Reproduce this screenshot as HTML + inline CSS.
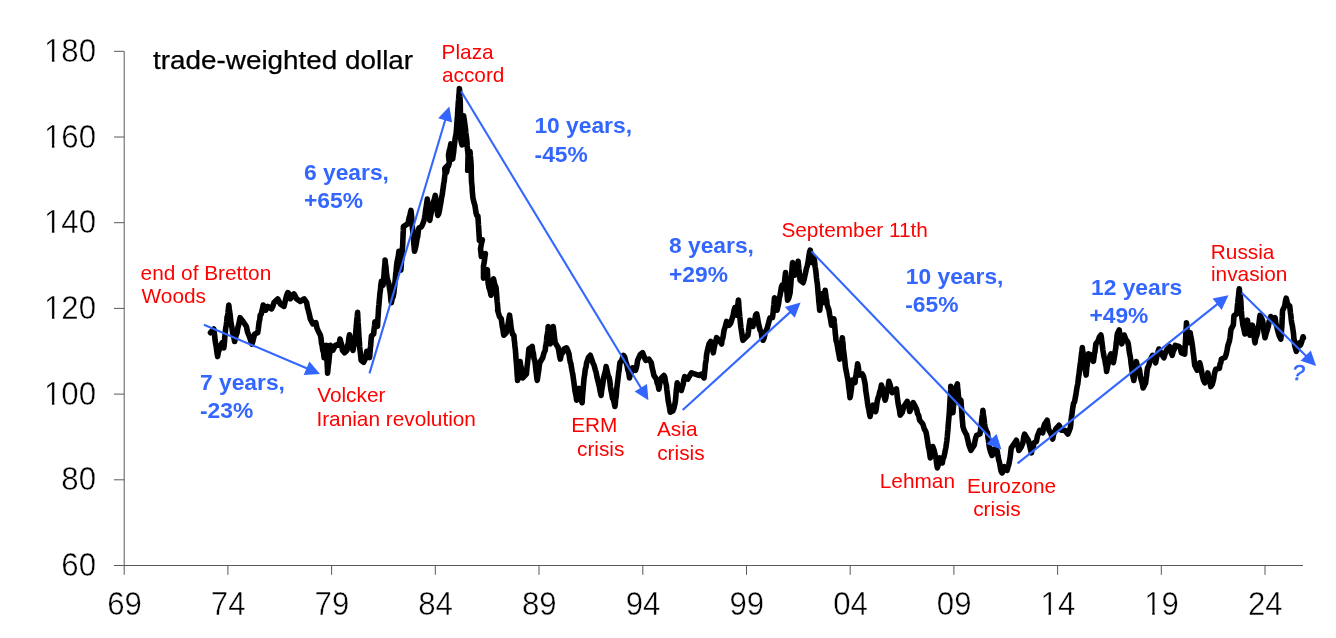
<!DOCTYPE html>
<html><head><meta charset="utf-8"><title>trade-weighted dollar</title>
<style>html,body{margin:0;padding:0;background:#fff}svg{display:block}text{font-family:"Liberation Sans",sans-serif}.ax{font-size:32.5px;fill:#000;stroke:#fff;stroke-width:0.45px}.r{font-size:20.8px;fill:#FF0000}.b{font-size:22.8px;font-weight:bold;fill:#3366FF}.t{font-size:25px;fill:#000;stroke:#000;stroke-width:0.25px}</style></head><body>
<svg width="1336" height="638" viewBox="0 0 1336 638">
<rect width="1336" height="638" fill="#fff"/>
<g stroke="#595959" stroke-width="1" fill="none">
<line x1="124.2" y1="51.3" x2="124.2" y2="574.8"/>
<line x1="114" y1="565.5" x2="1303" y2="565.5"/>
<line x1="114" y1="479.8" x2="124.2" y2="479.8"/>
<line x1="114" y1="394.1" x2="124.2" y2="394.1"/>
<line x1="114" y1="308.4" x2="124.2" y2="308.4"/>
<line x1="114" y1="222.7" x2="124.2" y2="222.7"/>
<line x1="114" y1="137.0" x2="124.2" y2="137.0"/>
<line x1="114" y1="51.3" x2="124.2" y2="51.3"/>
<line x1="227.9" y1="565.5" x2="227.9" y2="574.8"/>
<line x1="331.6" y1="565.5" x2="331.6" y2="574.8"/>
<line x1="435.3" y1="565.5" x2="435.3" y2="574.8"/>
<line x1="539.0" y1="565.5" x2="539.0" y2="574.8"/>
<line x1="642.8" y1="565.5" x2="642.8" y2="574.8"/>
<line x1="746.5" y1="565.5" x2="746.5" y2="574.8"/>
<line x1="850.2" y1="565.5" x2="850.2" y2="574.8"/>
<line x1="953.9" y1="565.5" x2="953.9" y2="574.8"/>
<line x1="1057.6" y1="565.5" x2="1057.6" y2="574.8"/>
<line x1="1161.3" y1="565.5" x2="1161.3" y2="574.8"/>
<line x1="1265.0" y1="565.5" x2="1265.0" y2="574.8"/>
</g>
<text class="ax" transform="translate(96,576.1) scale(0.96,1)" text-anchor="end">60</text>
<text class="ax" transform="translate(96,490.4) scale(0.96,1)" text-anchor="end">80</text>
<text class="ax" transform="translate(96,404.7) scale(0.96,1)" text-anchor="end">100</text>
<text class="ax" transform="translate(96,319.0) scale(0.96,1)" text-anchor="end">120</text>
<text class="ax" transform="translate(96,233.3) scale(0.96,1)" text-anchor="end">140</text>
<text class="ax" transform="translate(96,147.6) scale(0.96,1)" text-anchor="end">160</text>
<text class="ax" transform="translate(96,61.9) scale(0.96,1)" text-anchor="end">180</text>
<text class="ax" transform="translate(124.5,615) scale(0.96,1)" text-anchor="middle">69</text>
<text class="ax" transform="translate(228.2,615) scale(0.96,1)" text-anchor="middle">74</text>
<text class="ax" transform="translate(331.9,615) scale(0.96,1)" text-anchor="middle">79</text>
<text class="ax" transform="translate(435.6,615) scale(0.96,1)" text-anchor="middle">84</text>
<text class="ax" transform="translate(539.3,615) scale(0.96,1)" text-anchor="middle">89</text>
<text class="ax" transform="translate(643.1,615) scale(0.96,1)" text-anchor="middle">94</text>
<text class="ax" transform="translate(746.8,615) scale(0.96,1)" text-anchor="middle">99</text>
<text class="ax" transform="translate(850.5,615) scale(0.96,1)" text-anchor="middle">04</text>
<text class="ax" transform="translate(954.2,615) scale(0.96,1)" text-anchor="middle">09</text>
<text class="ax" transform="translate(1057.9,615) scale(0.96,1)" text-anchor="middle">14</text>
<text class="ax" transform="translate(1161.6,615) scale(0.96,1)" text-anchor="middle">19</text>
<text class="ax" transform="translate(1265.3,615) scale(0.96,1)" text-anchor="middle">24</text>
<rect x="44.84" y="401.30" width="7.07" height="3.9" fill="#fff"/><rect x="54.42" y="401.30" width="6.70" height="3.9" fill="#fff"/>
<rect x="44.84" y="315.60" width="7.07" height="3.9" fill="#fff"/><rect x="54.42" y="315.60" width="6.70" height="3.9" fill="#fff"/>
<rect x="44.84" y="229.90" width="7.07" height="3.9" fill="#fff"/><rect x="54.42" y="229.90" width="6.70" height="3.9" fill="#fff"/>
<rect x="44.84" y="144.20" width="7.07" height="3.9" fill="#fff"/><rect x="54.42" y="144.20" width="6.70" height="3.9" fill="#fff"/>
<rect x="44.84" y="58.50" width="7.07" height="3.9" fill="#fff"/><rect x="54.42" y="58.50" width="6.70" height="3.9" fill="#fff"/>
<rect x="1041.44" y="611.60" width="7.07" height="3.9" fill="#fff"/><rect x="1051.02" y="611.60" width="6.70" height="3.9" fill="#fff"/>
<rect x="1145.15" y="611.60" width="7.07" height="3.9" fill="#fff"/><rect x="1154.73" y="611.60" width="6.70" height="3.9" fill="#fff"/>
<text class="t" x="153.1" y="69.4" textLength="260" lengthAdjust="spacingAndGlyphs">trade-weighted dollar</text>
<path d="M210.5 332.7 L213.8 329.0 L214.2 332.3 L214.7 336.0 L215.1 340.3 L215.5 342.8 L216.1 346.1 L216.6 349.7 L217.1 353.3 L217.6 356.6 L218.4 351.9 L219.2 349.9 L220.1 346.5 L222.1 342.8 L223.8 347.8 L224.2 344.7 L224.5 341.7 L224.8 336.9 L225.2 334.0 L225.5 330.2 L225.8 327.7 L226.3 325.3 L226.7 321.7 L227.1 316.9 L227.6 316.0 L228.0 312.8 L228.4 308.8 L228.8 305.1 L229.3 309.2 L229.7 311.9 L230.2 315.3 L230.6 320.2 L231.3 324.4 L231.9 327.3 L232.6 332.7 L233.6 335.9 L234.6 341.5 L235.9 336.0 L237.1 332.7 L237.9 327.4 L238.6 325.1 L239.4 321.2 L240.1 317.7 L243.1 321.4 L246.4 326.5 L247.6 332.4 L248.9 335.2 L250.4 339.7 L251.9 344.0 L252.8 341.3 L253.8 337.3 L254.7 334.0 L257.7 332.7 L258.2 329.6 L258.7 325.6 L259.2 321.6 L259.7 320.0 L260.2 315.2 L261.2 314.1 L262.2 310.0 L263.2 305.1 L265.7 310.2 L267.7 306.4 L271.5 308.9 L272.7 306.7 L274.0 302.6 L277.7 298.9 L280.3 303.9 L284.0 306.4 L285.0 302.1 L285.9 298.3 L286.8 295.1 L287.8 292.6 L289.0 293.8 L290.3 298.9 L294.0 293.9 L296.6 298.9 L300.3 301.4 L304.1 298.9 L306.6 302.6 L307.5 307.4 L308.3 310.2 L309.3 314.2 L310.3 318.9 L312.9 323.9 L315.9 322.7 L316.9 327.9 L317.9 330.2 L320.4 335.2 L321.0 338.2 L321.5 343.3 L322.1 345.3 L322.8 350.4 L323.5 352.2 L324.1 357.8 L324.8 352.8 L325.5 350.6 L326.1 345.3 L326.3 348.7 L326.5 352.9 L326.7 355.6 L326.9 358.6 L327.1 362.9 L327.3 366.5 L327.5 369.3 L327.6 373.1 L328.0 368.4 L328.4 365.1 L328.8 362.6 L329.2 357.8 L329.6 354.2 L330.0 348.7 L330.4 345.3 L332.9 350.3 L335.4 345.3 L339.2 344.0 L340.0 339.1 L340.8 341.9 L341.7 345.1 L342.5 350.3 L344.5 352.9 L347.0 350.3 L347.6 345.2 L348.3 343.4 L348.9 337.8 L349.5 334.8 L350.1 338.5 L350.7 341.7 L351.3 345.3 L353.0 350.3 L353.7 346.0 L354.4 344.4 L355.0 340.3 L355.4 336.1 L355.7 333.6 L356.0 329.0 L356.3 326.1 L356.6 322.2 L356.9 318.8 L357.2 316.6 L357.6 312.2 L357.7 316.0 L357.9 318.6 L358.1 322.7 L358.3 325.0 L358.5 328.6 L358.7 332.1 L358.9 336.0 L359.1 339.1 L359.4 341.6 L359.6 346.4 L359.8 349.0 L360.3 352.1 L360.7 356.0 L361.1 360.3 L363.6 362.2 L365.5 358.4 L366.1 355.7 L366.8 351.3 L368.1 354.1 L369.6 357.5 L370.0 353.1 L370.3 348.9 L370.7 345.2 L371.1 339.8 L371.5 335.8 L373.7 333.9 L374.1 329.1 L374.5 326.0 L374.9 321.7 L377.5 326.4 L377.7 322.3 L377.9 319.1 L378.2 314.9 L378.4 311.3 L378.6 307.6 L378.9 305.0 L379.3 300.5 L379.6 297.2 L379.9 293.5 L380.4 290.3 L380.9 284.7 L381.4 281.4 L383.1 285.1 L383.4 280.9 L383.7 278.7 L384.0 275.0 L384.3 270.4 L384.6 266.7 L384.9 264.1 L385.1 260.1 L385.5 264.6 L385.9 266.4 L386.3 271.6 L386.7 275.0 L387.1 277.6 L388.0 281.2 L388.9 283.9 L389.4 287.5 L389.9 290.4 L390.4 294.0 L390.9 300.1 L391.4 302.7 L392.2 298.3 L393.1 296.8 L393.9 292.7 L394.3 288.6 L394.6 286.2 L395.0 282.1 L395.4 277.9 L395.7 274.1 L396.1 271.6 L396.4 267.6 L396.9 263.1 L397.4 260.3 L397.9 258.0 L398.4 255.5 L398.9 251.3 L399.3 255.3 L399.7 258.3 L400.1 263.5 L400.5 265.7 L400.9 270.1 L401.2 265.7 L401.4 262.5 L401.7 259.3 L401.9 255.0 L402.2 251.6 L402.4 248.4 L402.7 245.0 L402.8 241.4 L403.0 237.2 L403.1 233.9 L403.3 230.9 L403.4 226.7 L407.2 224.2 L408.2 222.8 L409.1 218.0 L410.0 214.7 L411.0 210.4 L411.3 213.9 L411.6 216.4 L411.8 219.6 L412.1 222.9 L412.4 227.9 L412.7 230.5 L413.0 234.3 L413.3 238.3 L413.6 240.0 L413.9 244.6 L414.2 247.8 L414.5 251.3 L415.5 247.8 L416.5 242.5 L417.1 238.3 L417.7 236.8 L418.4 230.3 L419.0 228.0 L421.5 226.7 L422.8 223.8 L424.0 220.4 L424.6 217.5 L425.1 214.4 L425.6 210.4 L426.2 206.8 L426.7 203.5 L427.3 199.1 L427.7 203.6 L428.1 205.9 L428.5 210.2 L428.9 214.3 L429.4 217.7 L429.8 220.4 L430.4 216.4 L431.0 213.8 L431.7 210.2 L432.3 205.4 L433.3 202.4 L434.3 199.3 L435.3 195.4 L435.7 198.4 L436.1 202.2 L436.6 205.7 L437.0 207.7 L437.4 212.4 L437.8 215.4 L438.6 214.1 L439.5 210.3 L440.3 205.4 L440.9 202.3 L441.6 197.5 L442.2 194.8 L442.8 190.3 L443.3 187.3 L443.7 183.7 L444.2 181.5 L444.7 176.2 L445.1 174.0 L444.8 168.4 L447.4 165.6 L447.0 169.4 L446.6 172.2 L447.5 167.0 L448.4 166.3 L449.3 162.8 L448.9 159.0 L448.5 155.2 L449.3 150.6 L450.0 148.4 L450.8 143.9 L450.4 148.6 L450.0 153.4 L452.7 159.0 L453.1 155.5 L453.6 152.5 L454.1 147.1 L454.5 143.9 L455.1 138.9 L455.7 135.9 L456.2 132.7 L456.5 129.2 L456.8 124.6 L457.1 120.8 L457.4 117.6 L457.6 114.5 L457.8 110.3 L458.1 106.2 L458.3 102.6 L458.6 99.7 L458.9 95.2 L459.2 92.3 L459.4 88.5 L459.7 92.1 L459.9 96.5 L460.2 100.7 L460.3 104.4 L460.3 107.9 L460.4 111.2 L460.5 114.1 L460.6 117.6 L460.5 121.4 L460.5 125.0 L460.5 128.6 L460.4 132.7 L460.4 136.4 L461.2 141.8 L462.1 144.9 L462.7 141.8 L463.3 137.3 L463.9 132.7 L463.9 129.7 L463.8 125.7 L463.7 122.2 L463.6 119.1 L463.6 115.7 L464.0 118.4 L464.5 121.6 L465.0 125.4 L465.5 128.9 L465.8 132.5 L466.2 135.5 L466.6 138.4 L467.0 142.1 L467.2 146.0 L467.5 149.6 L467.8 151.9 L468.1 155.2 L468.0 158.6 L467.9 162.3 L467.8 166.9 L467.7 170.3 L468.2 165.5 L468.6 163.2 L469.1 159.2 L469.5 154.8 L470.0 151.5 L470.3 155.3 L470.5 157.2 L470.8 160.7 L471.1 164.6 L471.2 168.0 L471.2 170.9 L471.3 175.1 L471.4 177.9 L471.5 181.6 L471.8 184.1 L472.1 187.2 L472.3 191.6 L472.6 194.5 L472.9 197.9 L473.9 202.2 L474.9 205.4 L475.5 209.2 L476.1 213.0 L476.7 215.4 L477.9 216.0 L478.2 220.8 L478.4 224.4 L478.7 228.2 L478.9 231.8 L479.2 236.3 L479.4 240.4 L482.4 239.9 L481.5 243.3 L480.5 248.9 L480.9 251.7 L481.3 256.4 L485.4 253.6 L484.8 257.6 L484.2 262.4 L483.5 265.8 L483.5 269.7 L483.5 273.8 L483.5 278.1 L485.4 273.1 L487.3 269.6 L487.5 273.2 L487.7 276.2 L487.9 279.6 L488.1 282.8 L489.0 287.9 L490.0 290.6 L491.0 295.2 L491.5 292.7 L492.0 289.8 L492.5 284.2 L493.0 283.3 L493.5 278.9 L494.7 284.3 L496.0 287.6 L496.3 290.2 L496.6 294.0 L496.8 297.6 L497.1 301.3 L497.4 303.5 L497.7 307.1 L498.0 310.2 L497.6 310.2 L499.4 316.3 L501.3 318.9 L501.8 323.0 L502.3 326.7 L502.8 328.6 L503.3 332.4 L503.8 335.2 L506.3 332.7 L507.0 328.3 L507.6 326.4 L508.3 323.2 L508.9 319.1 L509.6 315.2 L510.0 319.2 L510.5 321.4 L510.9 326.5 L511.3 329.0 L512.6 334.3 L513.9 335.2 L514.2 339.7 L514.6 342.3 L514.9 346.4 L515.3 348.9 L515.6 352.8 L515.9 356.9 L516.1 360.3 L516.4 362.9 L516.6 365.9 L516.9 369.9 L517.1 373.6 L517.4 377.4 L517.6 380.4 L518.1 376.6 L518.6 371.7 L519.1 369.9 L519.6 364.2 L520.1 361.6 L520.6 365.7 L521.1 367.2 L521.6 370.9 L522.1 375.4 L522.6 377.9 L526.4 374.1 L526.8 369.8 L527.1 366.2 L527.5 363.4 L527.8 360.2 L528.2 356.9 L528.5 353.0 L528.9 349.0 L532.2 346.5 L532.8 351.4 L533.4 353.4 L534.0 358.3 L534.7 360.3 L535.1 362.7 L535.5 366.3 L535.9 370.4 L536.3 373.2 L536.8 377.6 L537.2 380.4 L537.7 377.2 L538.2 373.4 L538.7 370.8 L539.2 366.5 L539.7 362.8 L542.7 357.8 L543.9 353.2 L545.2 350.3 L545.6 346.6 L546.1 344.3 L546.5 341.0 L546.9 336.0 L547.4 334.1 L547.8 331.0 L548.2 326.5 L548.6 330.0 L549.0 333.6 L549.4 336.3 L549.8 340.6 L550.2 344.0 L550.8 340.5 L551.4 337.3 L552.0 332.1 L552.6 331.4 L553.2 326.5 L553.6 329.8 L554.0 332.7 L554.4 337.0 L554.8 339.6 L555.2 342.8 L558.2 347.8 L558.9 351.5 L559.6 355.9 L560.3 359.1 L561.5 353.7 L562.8 352.6 L564.0 349.0 L566.5 347.8 L567.8 350.5 L569.0 354.0 L569.7 358.9 L570.3 362.3 L570.9 363.7 L571.5 367.8 L572.2 371.5 L572.8 374.3 L573.4 378.9 L574.0 382.9 L574.5 387.2 L575.0 390.9 L575.5 393.2 L576.1 396.2 L576.6 400.2 L577.4 395.2 L578.2 392.8 L579.1 388.4 L579.8 393.5 L580.6 394.2 L581.3 400.1 L582.1 402.7 L582.4 398.3 L582.6 395.1 L582.9 391.6 L583.2 388.8 L583.5 384.6 L583.8 381.2 L584.1 377.9 L584.7 374.5 L585.3 369.2 L586.0 367.3 L586.6 362.8 L588.5 357.3 L590.3 355.3 L591.6 359.1 L592.9 362.8 L594.1 365.4 L595.4 370.3 L596.1 372.3 L596.9 376.7 L597.6 379.5 L598.4 382.9 L599.1 385.6 L599.7 388.8 L600.4 392.4 L601.1 395.4 L601.6 391.0 L602.1 387.6 L602.6 385.2 L603.1 381.7 L603.6 377.9 L604.5 374.2 L605.3 371.6 L606.1 366.6 L607.1 370.8 L608.2 375.6 L609.2 377.9 L609.8 381.0 L610.4 386.3 L611.0 390.4 L611.7 393.4 L612.5 398.3 L613.3 399.2 L614.1 402.5 L614.9 406.5 L615.3 404.1 L615.6 399.3 L616.0 397.7 L616.4 394.1 L616.7 389.2 L617.1 386.1 L617.4 383.4 L617.8 380.5 L618.3 376.0 L618.7 372.2 L619.1 370.5 L619.5 366.1 L619.9 362.8 L621.7 360.4 L623.4 355.3 L624.6 356.9 L625.8 361.5 L627.0 365.3 L627.9 370.1 L628.7 372.1 L629.5 377.9 L630.5 373.1 L631.5 372.0 L632.5 367.8 L635.5 370.3 L636.2 368.4 L636.9 365.2 L637.6 360.3 L640.1 354.8 L642.6 352.8 L644.1 356.6 L645.6 360.3 L648.8 359.1 L651.3 362.8 L652.2 367.9 L653.0 371.2 L653.9 375.4 L656.4 379.1 L657.2 383.2 L658.0 384.6 L658.9 389.2 L659.7 383.8 L660.5 380.2 L661.4 377.9 L663.9 375.4 L664.7 376.8 L665.6 382.3 L666.4 385.4 L666.8 389.3 L667.3 393.3 L667.7 396.3 L668.2 400.9 L668.8 403.7 L669.5 407.5 L670.2 412.2 L672.7 411.0 L673.9 408.3 L675.2 402.4 L675.5 400.2 L675.8 396.8 L676.2 391.8 L676.5 388.5 L676.8 387.1 L677.2 382.9 L678.9 387.9 L681.4 390.4 L682.3 386.8 L683.1 384.5 L683.9 379.4 L684.7 376.6 L687.7 379.1 L689.6 375.8 L691.5 372.9 L695.2 374.1 L699.0 375.4 L701.5 374.1 L704.0 377.9 L704.4 374.7 L704.7 371.3 L705.1 368.4 L705.4 363.9 L705.8 362.2 L706.2 359.3 L706.5 355.3 L707.4 350.4 L708.2 347.6 L709.0 344.0 L710.8 341.5 L711.6 346.1 L712.5 348.7 L713.3 352.8 L714.1 347.9 L714.9 344.1 L715.7 341.6 L716.6 337.7 L719.1 340.3 L721.6 344.0 L722.2 339.0 L722.8 338.4 L723.4 334.6 L724.1 330.2 L725.3 326.7 L726.6 321.4 L729.1 325.2 L730.7 323.1 L732.4 317.7 L733.2 314.9 L734.0 310.6 L734.9 307.6 L735.7 311.8 L736.6 315.2 L737.1 311.4 L737.5 308.8 L737.9 304.6 L738.4 300.1 L738.7 302.9 L738.9 307.4 L739.2 310.3 L739.5 313.6 L739.8 316.8 L740.1 319.3 L740.4 322.7 L740.9 327.3 L741.4 330.7 L741.9 333.7 L742.4 337.4 L742.9 340.3 L745.4 337.7 L747.9 335.2 L748.4 332.1 L748.9 327.5 L749.4 324.5 L749.9 320.2 L751.4 321.3 L752.9 326.5 L753.9 322.6 L754.8 320.0 L755.7 314.8 L756.7 313.9 L757.5 317.6 L758.3 322.7 L759.2 326.5 L760.1 330.2 L761.1 331.5 L762.0 337.9 L762.9 339.0 L763.0 340.3 L764.1 337.8 L765.2 332.9 L766.3 330.3 L767.2 327.9 L768.2 324.4 L769.1 321.1 L770.0 317.8 L772.5 317.8 L772.9 314.2 L773.2 312.1 L773.5 308.0 L773.9 304.8 L774.2 301.6 L774.5 297.7 L775.4 303.5 L776.2 304.5 L777.1 310.3 L777.8 306.9 L778.6 303.5 L779.3 298.1 L780.1 295.2 L780.7 291.5 L781.4 287.0 L782.1 285.2 L783.8 288.9 L784.2 285.0 L784.5 282.1 L784.9 278.3 L785.2 275.4 L785.6 272.6 L785.8 276.8 L786.1 279.6 L786.3 283.0 L786.6 287.2 L786.8 290.0 L787.1 294.2 L787.3 297.0 L787.6 300.2 L788.8 297.9 L790.1 292.7 L790.4 288.6 L790.7 286.2 L790.9 283.1 L791.2 278.5 L791.5 276.8 L791.8 272.0 L792.0 269.2 L792.3 265.3 L792.6 262.6 L793.4 266.8 L794.3 271.3 L795.1 275.1 L795.9 270.1 L796.6 269.9 L797.4 264.5 L798.1 261.3 L798.5 265.2 L798.9 269.1 L799.3 272.3 L799.7 275.9 L800.1 280.2 L803.1 282.7 L804.0 279.9 L804.8 276.2 L805.6 272.6 L806.5 268.1 L807.3 265.9 L808.2 261.3 L808.8 257.0 L809.5 252.3 L810.2 250.1 L810.8 253.5 L811.5 257.1 L812.2 262.6 L813.9 257.6 L814.5 260.9 L815.1 266.6 L815.7 270.1 L816.1 273.4 L816.5 278.0 L816.9 281.2 L817.3 283.2 L817.7 287.7 L818.0 291.8 L818.3 295.0 L818.5 296.5 L818.8 301.4 L819.1 303.7 L819.4 307.0 L819.7 310.3 L820.0 308.0 L820.4 303.2 L820.7 300.5 L821.1 298.2 L821.4 293.9 L822.1 298.9 L822.7 302.7 L823.5 298.4 L824.4 296.0 L825.2 290.2 L825.7 294.7 L826.2 298.0 L826.7 300.5 L827.2 305.2 L829.0 310.3 L829.6 314.4 L830.2 317.6 L830.8 320.7 L831.5 325.3 L832.7 320.1 L834.0 319.0 L834.3 322.6 L834.6 325.4 L835.0 329.6 L835.3 333.6 L835.7 336.7 L836.0 340.3 L836.9 343.2 L837.7 347.9 L838.4 351.9 L839.1 355.1 L839.7 359.2 L840.2 356.2 L840.6 352.1 L841.0 349.6 L841.4 346.0 L841.8 341.9 L842.3 337.8 L842.6 340.6 L843.0 343.6 L843.3 348.6 L843.7 351.7 L844.1 354.6 L844.4 357.4 L844.8 360.5 L845.2 364.7 L845.5 367.6 L846.4 372.0 L847.2 376.3 L848.0 380.1 L848.4 383.9 L848.8 387.7 L849.2 390.0 L849.6 393.6 L850.0 397.7 L850.5 395.4 L851.0 391.8 L851.5 388.1 L852.0 382.4 L852.5 380.1 L855.0 382.6 L855.5 377.8 L856.1 374.5 L856.6 371.2 L857.1 367.9 L857.6 363.8 L858.2 366.4 L858.9 371.5 L859.6 375.1 L862.1 373.9 L863.3 375.7 L864.6 381.4 L865.2 384.5 L865.7 390.2 L866.3 393.9 L866.9 398.2 L867.5 402.6 L868.1 406.5 L868.8 409.4 L869.4 413.1 L870.1 416.5 L871.1 411.5 L872.1 408.3 L873.1 405.2 L874.4 409.5 L875.6 411.5 L876.2 409.1 L876.9 403.2 L877.5 399.9 L878.1 397.7 L878.9 395.8 L879.7 391.9 L880.6 389.4 L881.4 385.1 L882.3 387.7 L883.3 392.4 L884.2 395.4 L885.1 400.2 L885.9 397.5 L886.6 392.2 L887.4 389.4 L888.2 386.8 L888.9 381.4 L890.0 384.4 L891.1 389.1 L892.2 392.7 L896.4 388.9 L896.9 393.2 L897.3 397.4 L897.7 400.0 L898.2 403.9 L898.9 407.3 L899.5 410.2 L900.2 415.2 L902.1 412.6 L903.9 406.5 L907.2 401.4 L908.0 403.1 L908.9 406.4 L909.7 411.5 L911.5 407.4 L913.2 402.7 L914.9 405.8 L916.5 409.0 L917.6 413.6 L918.7 415.6 L919.7 420.3 L922.8 424.0 L924.3 429.0 L925.8 431.5 L926.4 434.0 L927.1 438.2 L927.8 442.8 L928.4 447.1 L929.0 449.1 L929.7 453.5 L930.3 457.9 L931.1 454.9 L932.0 451.1 L932.8 446.6 L934.0 450.0 L935.3 455.4 L936.0 458.5 L936.6 463.3 L937.3 467.9 L938.1 465.5 L939.0 460.7 L939.8 457.9 L942.3 462.9 L943.1 458.3 L943.8 457.4 L944.6 453.8 L945.3 450.3 L945.8 448.0 L946.3 444.6 L946.8 441.1 L947.3 436.6 L947.6 432.9 L947.9 430.0 L948.2 425.5 L948.5 422.0 L948.8 418.6 L949.1 415.2 L949.3 412.7 L949.5 409.4 L949.7 405.2 L949.9 402.2 L950.1 399.0 L950.3 395.8 L950.5 392.6 L950.7 389.4 L950.8 386.4 L951.1 389.2 L951.3 393.1 L951.6 396.8 L951.8 399.6 L952.1 403.4 L952.4 406.3 L952.6 408.9 L952.9 412.7 L953.1 410.0 L953.4 407.0 L953.7 402.6 L954.0 398.9 L954.3 396.6 L954.6 393.5 L954.9 390.2 L956.1 387.3 L957.4 383.9 L957.7 388.6 L958.1 391.7 L958.4 395.8 L958.8 398.1 L959.1 402.7 L960.9 400.2 L961.1 403.6 L961.4 407.3 L961.6 409.3 L961.9 412.6 L962.1 417.1 L962.4 420.6 L962.6 422.5 L962.9 426.5 L964.1 430.3 L965.4 432.8 L966.6 434.9 L967.9 440.3 L968.9 444.8 L969.9 447.7 L970.9 450.3 L974.2 445.3 L975.0 441.0 L975.8 437.5 L976.7 435.3 L979.9 434.0 L980.4 431.3 L980.8 427.3 L981.2 424.5 L981.7 420.2 L982.1 416.6 L982.5 414.8 L982.9 410.2 L983.3 413.9 L983.7 416.7 L984.2 420.1 L984.6 423.8 L985.0 426.5 L986.2 430.6 L987.5 432.8 L988.0 437.6 L988.5 440.1 L989.0 444.9 L989.5 447.9 L990.8 452.4 L992.0 455.4 L993.3 453.9 L994.5 449.1 L997.1 450.4 L997.9 455.6 L998.7 459.9 L999.6 462.9 L1000.4 467.8 L1001.2 471.5 L1002.1 472.9 L1003.3 470.5 L1004.6 466.7 L1007.1 470.4 L1007.9 467.2 L1008.8 464.6 L1009.6 460.4 L1010.2 457.0 L1010.8 451.8 L1011.3 447.9 L1013.9 444.1 L1016.4 440.3 L1017.2 443.4 L1018.0 445.6 L1018.9 450.4 L1021.4 446.6 L1022.2 444.5 L1023.0 442.4 L1023.8 436.7 L1024.6 434.1 L1027.6 439.1 L1028.6 441.1 L1029.5 444.7 L1030.5 449.1 L1031.4 452.9 L1032.2 448.7 L1033.1 448.1 L1033.9 442.9 L1036.4 441.6 L1037.5 435.8 L1038.6 433.2 L1039.7 430.3 L1042.7 432.8 L1043.7 427.0 L1044.7 424.0 L1047.2 420.3 L1047.8 424.1 L1048.4 427.8 L1049.0 430.3 L1050.8 433.2 L1052.7 439.1 L1053.7 433.7 L1054.7 432.2 L1055.7 429.1 L1059.0 425.3 L1061.5 430.3 L1064.8 430.3 L1067.8 434.1 L1069.0 431.3 L1070.3 427.8 L1070.7 425.4 L1071.1 420.0 L1071.5 416.8 L1072.0 413.7 L1072.4 410.4 L1072.8 407.7 L1073.6 403.3 L1074.5 401.9 L1075.3 397.7 L1075.9 394.6 L1076.6 389.9 L1077.2 386.4 L1077.8 383.9 L1078.2 380.1 L1078.6 376.6 L1079.0 374.7 L1079.4 370.4 L1079.8 367.6 L1080.2 364.4 L1080.6 361.7 L1081.1 357.5 L1081.5 353.7 L1081.9 351.8 L1082.3 347.6 L1082.8 352.3 L1083.2 354.7 L1083.6 358.9 L1084.1 362.6 L1084.7 368.1 L1085.4 370.9 L1086.1 375.1 L1086.5 371.0 L1086.8 367.1 L1087.2 365.4 L1087.6 361.6 L1088.0 357.1 L1088.3 353.8 L1090.8 355.1 L1092.1 358.3 L1093.4 361.3 L1093.9 357.9 L1094.4 353.7 L1094.9 352.1 L1095.4 347.7 L1095.9 343.8 L1097.9 341.3 L1099.4 336.9 L1100.9 335.0 L1101.4 337.5 L1101.9 342.5 L1102.4 346.0 L1102.9 350.1 L1103.6 354.4 L1104.2 357.5 L1104.9 360.1 L1105.5 364.2 L1106.1 366.7 L1106.6 371.4 L1107.5 366.4 L1108.3 363.2 L1109.2 360.1 L1110.0 355.9 L1110.9 353.8 L1112.2 359.9 L1113.4 362.6 L1114.1 358.5 L1114.8 354.6 L1115.4 350.1 L1115.8 348.0 L1116.2 343.0 L1116.6 340.4 L1117.0 336.2 L1117.4 333.8 L1119.2 330.0 L1119.8 334.3 L1120.4 335.3 L1121.1 341.4 L1121.7 343.8 L1122.9 341.0 L1124.2 335.0 L1125.9 339.7 L1127.5 341.5 L1128.2 343.6 L1128.8 347.7 L1129.4 352.5 L1130.0 355.3 L1130.5 358.0 L1131.0 362.8 L1131.5 366.5 L1132.0 370.3 L1132.6 375.1 L1133.2 377.3 L1133.8 380.4 L1134.3 377.5 L1134.8 372.4 L1135.3 369.8 L1135.8 365.1 L1136.3 361.6 L1137.6 366.6 L1138.8 367.8 L1139.6 370.6 L1140.5 377.3 L1141.3 380.4 L1142.2 383.0 L1143.1 387.9 L1145.6 382.9 L1146.1 379.2 L1146.6 375.4 L1147.1 370.7 L1147.6 367.8 L1148.8 365.6 L1150.1 360.3 L1152.6 355.3 L1154.1 358.2 L1155.6 362.8 L1156.4 358.6 L1157.2 354.3 L1158.1 351.7 L1158.9 349.0 L1161.4 354.0 L1163.9 357.8 L1165.1 353.9 L1166.4 350.3 L1169.7 346.5 L1170.9 351.9 L1172.2 355.3 L1173.2 351.3 L1174.2 349.5 L1175.2 345.3 L1178.9 346.5 L1180.2 347.8 L1181.4 352.8 L1184.7 354.0 L1184.9 350.4 L1185.1 347.0 L1185.3 344.3 L1185.5 340.6 L1185.7 336.9 L1185.9 332.4 L1186.1 329.5 L1186.3 326.5 L1186.5 322.7 L1186.8 325.5 L1187.0 329.5 L1187.3 332.6 L1187.6 335.1 L1187.9 340.3 L1188.2 342.8 L1188.9 340.4 L1189.6 335.1 L1190.2 332.7 L1190.8 336.8 L1191.5 339.6 L1192.1 343.6 L1192.7 347.8 L1193.1 351.4 L1193.5 354.3 L1193.9 357.9 L1194.3 361.6 L1194.7 365.3 L1197.2 370.3 L1198.5 367.3 L1199.7 362.8 L1200.6 366.2 L1201.4 370.2 L1202.3 375.4 L1203.5 380.2 L1204.8 382.9 L1205.8 378.8 L1206.8 378.2 L1207.8 372.9 L1208.5 376.5 L1209.3 380.6 L1210.0 382.6 L1210.8 386.6 L1212.3 384.2 L1213.7 378.7 L1214.4 374.1 L1215.1 371.2 L1215.8 369.3 L1219.4 368.4 L1220.1 363.8 L1220.8 362.8 L1221.4 359.0 L1225.0 357.5 L1226.1 354.6 L1227.1 350.0 L1227.9 345.5 L1228.7 343.3 L1229.5 340.6 L1230.0 337.6 L1230.5 333.3 L1231.0 329.3 L1233.3 325.1 L1233.7 319.7 L1234.0 315.7 L1236.7 313.9 L1237.1 309.5 L1237.4 305.6 L1237.8 302.6 L1238.2 298.3 L1238.6 295.5 L1238.9 291.3 L1239.3 288.8 L1239.7 293.2 L1240.2 295.3 L1240.6 298.8 L1240.9 302.6 L1241.1 306.6 L1241.3 310.5 L1241.6 313.9 L1242.0 318.4 L1242.4 321.1 L1242.9 325.1 L1243.9 328.9 L1244.9 334.0 L1245.5 330.3 L1246.1 325.6 L1246.8 323.3 L1247.4 320.2 L1248.0 324.5 L1248.7 329.1 L1249.3 332.3 L1249.9 335.2 L1250.7 332.5 L1251.6 329.0 L1252.4 325.2 L1252.9 327.4 L1253.4 331.8 L1254.0 335.4 L1254.5 339.7 L1255.0 342.9 L1255.8 337.9 L1256.7 335.7 L1257.5 332.8 L1258.0 329.3 L1258.5 326.6 L1259.0 323.1 L1259.5 319.1 L1260.0 315.3 L1262.5 320.3 L1263.0 322.9 L1263.5 328.0 L1264.0 331.9 L1264.5 334.5 L1265.0 337.8 L1266.3 332.8 L1267.5 329.1 L1268.4 325.9 L1269.2 321.3 L1270.0 320.5 L1270.8 316.5 L1273.3 320.3 L1275.1 317.8 L1275.9 323.6 L1276.7 326.2 L1277.6 330.3 L1279.2 335.7 L1280.8 339.1 L1281.2 335.5 L1281.5 330.1 L1281.8 326.4 L1282.0 323.8 L1282.1 320.2 L1282.3 316.4 L1282.4 313.1 L1282.6 310.4 L1284.7 306.1 L1285.4 301.3 L1286.2 298.2 L1287.7 304.2 L1289.7 306.1 L1290.1 309.6 L1290.5 313.1 L1290.9 315.6 L1291.2 319.3 L1291.8 323.7 L1292.3 325.3 L1292.8 328.8 L1293.3 332.1 L1293.6 334.6 L1294.0 339.6 L1294.3 341.2 L1294.6 345.2 L1296.3 351.3 L1297.5 349.0 L1298.8 343.0 L1300.6 344.9 L1301.9 341.0 L1303.1 336.8 L1303.4 337.8" fill="none" stroke="#000" stroke-width="5.6" stroke-linejoin="round" stroke-linecap="round"/>
<line x1="203.9" y1="324.7" x2="308.4" y2="369.0" stroke="#3366FF" stroke-width="2.1"/><polygon points="320.0,373.9 303.7,374.9 309.4,361.5" fill="#3366FF"/>
<line x1="369.5" y1="373.4" x2="445.7" y2="118.5" stroke="#3366FF" stroke-width="2.1"/><polygon points="449.3,106.4 452.1,122.5 438.2,118.3" fill="#3366FF"/>
<line x1="461.1" y1="91.3" x2="641.9" y2="389.5" stroke="#3366FF" stroke-width="2.1"/><polygon points="648.4,400.3 634.6,391.6 647.0,384.1" fill="#3366FF"/>
<line x1="682.7" y1="410.0" x2="791.3" y2="311.1" stroke="#3366FF" stroke-width="2.1"/><polygon points="800.6,302.6 794.7,317.8 784.9,307.1" fill="#3366FF"/>
<line x1="811.4" y1="251.3" x2="992.8" y2="440.4" stroke="#3366FF" stroke-width="2.1"/><polygon points="1001.5,449.5 986.2,444.0 996.6,433.9" fill="#3366FF"/>
<line x1="1017.6" y1="463.4" x2="1218.6" y2="303.1" stroke="#3366FF" stroke-width="2.1"/><polygon points="1228.5,295.2 1221.6,310.0 1212.6,298.6" fill="#3366FF"/>
<line x1="1241.7" y1="292.7" x2="1307.1" y2="357.1" stroke="#3366FF" stroke-width="2.1"/><polygon points="1316.1,365.9 1300.6,360.8 1310.8,350.5" fill="#3366FF"/>
<text class="r" x="140.6" y="279.6">end of Bretton</text>
<text class="r" x="141.6" y="302.9">Woods</text>
<text class="r" x="317.2" y="401.9">Volcker</text>
<text class="r" x="316.4" y="425.8">Iranian revolution</text>
<text class="r" x="441.6" y="58.6">Plaza</text>
<text class="r" x="442.0" y="82.2">accord</text>
<text class="r" x="571.2" y="432.1">ERM</text>
<text class="r" x="577.0" y="455.7">crisis</text>
<text class="r" x="657.0" y="436.2">Asia</text>
<text class="r" x="657.2" y="459.5">crisis</text>
<text class="r" x="781.4" y="237.3">September 11th</text>
<text class="r" x="879.8" y="488.3">Lehman</text>
<text class="r" x="967.0" y="492.6">Eurozone</text>
<text class="r" x="973.2" y="516.0">crisis</text>
<text class="r" x="1210.8" y="259.3">Russia</text>
<text class="r" x="1211.0" y="280.6">invasion</text>
<text class="b" x="200.0" y="390.2">7 years,</text>
<text class="b" x="200.0" y="417.8">-23%</text>
<text class="b" x="304.0" y="180.1">6 years,</text>
<text class="b" x="304.0" y="208.3">+65%</text>
<text class="b" x="534.4" y="133.4">10 years,</text>
<text class="b" x="534.6" y="161.6">-45%</text>
<text class="b" x="669.0" y="253.3">8 years,</text>
<text class="b" x="669.0" y="281.9">+29%</text>
<text class="b" x="905.8" y="284.1">10 years,</text>
<text class="b" x="905.2" y="312.2">-65%</text>
<text class="b" x="1091.0" y="295.3">12 years</text>
<text class="b" x="1089.4" y="323.2">+49%</text>
<text x="1292.2" y="380.4" style="font-size:22.5px;font-style:italic;fill:#3366FF;stroke:#3366FF;stroke-width:0.6px">?</text>
</svg></body></html>
